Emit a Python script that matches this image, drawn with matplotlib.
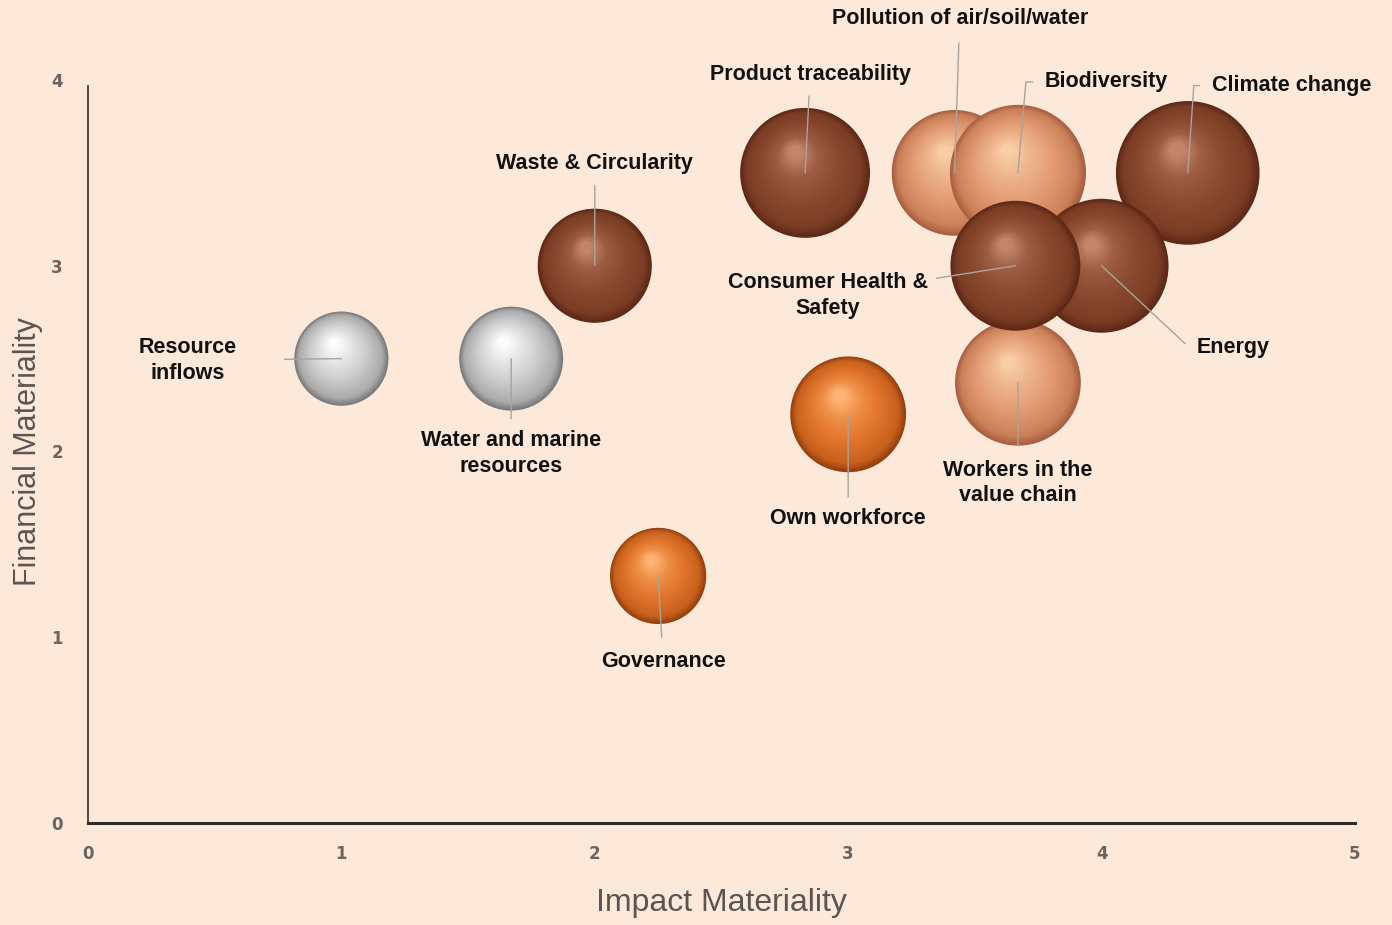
import numpy as np
import matplotlib
matplotlib.use('Agg')
import matplotlib.pyplot as plt
from matplotlib.colors import LinearSegmentedColormap
from matplotlib.transforms import offset_copy

# --- data -------------------------------------------------------------
names = ['Resource\ninflows', 'Water and marine\nresources', 'Waste & Circularity',
         'Product traceability', 'Pollution of air/soil/water', 'Biodiversity',
         'Climate change', 'Workers in the\nvalue chain', 'Energy',
         'Consumer Health &\nSafety', 'Own workforce', 'Governance']
impact = [1.0, 1.67, 2.0, 2.83, 3.42, 3.67, 4.34, 3.67, 4.0, 3.66, 3.0, 2.25]
financial = [2.5, 2.5, 3.0, 3.5, 3.5, 3.5, 3.5, 2.37, 3.0, 3.0, 2.2, 1.33]
sizes = [4600, 5600, 6750, 8750, 8200, 9600, 10700, 8200, 9300, 8750, 6950, 4800]
groups = ['silver', 'silver', 'dark', 'dark', 'light', 'light',
          'dark', 'light', 'dark', 'dark', 'orange', 'orange']

# --- layout -----------------------------------------------------------
# label position (data coords), shrink of leader at text side (pt), connection
label_layout = {
    'Resource\ninflows': ((0.395, 2.49), 32, 'arc3'),
    'Water and marine\nresources': ((1.67, 1.99), 6, 'arc3'),
    'Waste & Circularity': ((2.0, 3.55), 6, 'arc3'),
    'Product traceability': ((2.85, 4.03), 6, 'arc3'),
    'Pollution of air/soil/water': ((3.44, 4.33), 8, 'arc3'),
    'Biodiversity': ((4.02, 3.99), 7, 'angle,angleA=0,angleB=85,rad=0'),
    'Climate change': ((4.75, 3.97), 7, 'angle,angleA=0,angleB=86,rad=0'),
    'Workers in the\nvalue chain': ((3.67, 1.83), 8, 'arc3'),
    'Energy': ((4.52, 2.56), 7, 'angle,angleA=0,angleB=137,rad=0'),
    'Consumer Health &\nSafety': ((2.92, 2.84), 4, 'arc3'),
    'Own workforce': ((3.0, 1.64), 6, 'arc3'),
    'Governance': ((2.27, 0.87), 8, 'arc3'),
}
elbow_relpos = {'Biodiversity': (0, 0.5), 'Climate change': (0, 0.5), 'Energy': (0, 0.5)}

palettes = {
    'dark':   ['#5e2916', '#7a3c24', '#8a4a30', '#9e5c42', '#c2846a'],
    'light':  ['#a86040', '#cc8058', '#e29c74', '#eeb48c', '#f8cca4'],
    'orange': ['#94400f', '#c8601c', '#e2762e', '#ef9048', '#fdb474'],
    'silver': ['#7a7a7a', '#ababab', '#cdcdcd', '#e6e6e6', '#fcfcfc'],
}
stops = [0.0, 0.12, 0.45, 0.75, 1.0]

BG = '#fce9d9'
plt.rcParams['font.family'] = ['Liberation Sans', 'DejaVu Sans']

fig = plt.figure(figsize=(13.92, 9.25), dpi=100, facecolor=BG)
ax = fig.add_axes([0.0632, 0.1103, 0.9102, 0.8032], facecolor=BG)
ax.set_xlim(0, 5)
ax.set_ylim(0, 4)


def draw_sphere(ax, x, y, s, pal, n=45):
    cmap = LinearSegmentedColormap.from_list('sph', list(zip(stops, pal)))
    R = np.sqrt(s) / 2.0  # radius in points
    hx, hy = -0.15 * R, 0.32 * R
    for i in range(n):
        t = i / (n - 1)
        tr = offset_copy(ax.transData, fig=fig, x=t * hx, y=t * hy, units='points')
        ax.scatter([x], [y], s=s * (1 - 0.9 * t) ** 2, color=cmap(t),
                   edgecolors='none', transform=tr, zorder=2, clip_on=False)


for x, y, s, g in zip(impact, financial, sizes, groups):
    draw_sphere(ax, x, y, s, palettes[g])

for name, x, y in zip(names, impact, financial):
    (tx, ty), shr, conn = label_layout[name]
    props = dict(arrowstyle='-', color='#a9a39e', lw=1.0, shrinkA=shr, shrinkB=0,
                 connectionstyle=conn)
    if name in elbow_relpos:
        props['relpos'] = elbow_relpos[name]
    ax.annotate(name, xy=(x, y), xytext=(tx, ty), ha='center', va='center',
                fontsize=15.5, fontweight='bold', color='#111111', linespacing=1.3,
                arrowprops=props, annotation_clip=False, zorder=5)

for side in ['top', 'right']:
    ax.spines[side].set_visible(False)
ax.spines['left'].set_color('#3f3a36')
ax.spines['left'].set_linewidth(1.3)
ax.spines['bottom'].set_color('#2e2a27')
ax.spines['bottom'].set_linewidth(2.2)
ax.spines['left'].set_bounds(0, 3.97)

ax.set_xticks(range(6))
ax.set_yticks(range(5))
ax.tick_params(length=0, labelsize=12, labelcolor='#6b6460')
ax.tick_params(axis='x', pad=16)
ax.tick_params(axis='y', pad=18)
for lab in ax.get_xticklabels() + ax.get_yticklabels():
    lab.set_fontfamily(['Liberation Sans Narrow', 'DejaVu Sans'])
    lab.set_fontweight('bold')

ax.set_xlabel('Impact Materiality', fontsize=23, color='#5a5552', labelpad=18)
ax.set_ylabel('Financial Materiality', fontsize=22, color='#5a5552', labelpad=6)

fig.savefig('out.png', dpi=100, facecolor=BG)
